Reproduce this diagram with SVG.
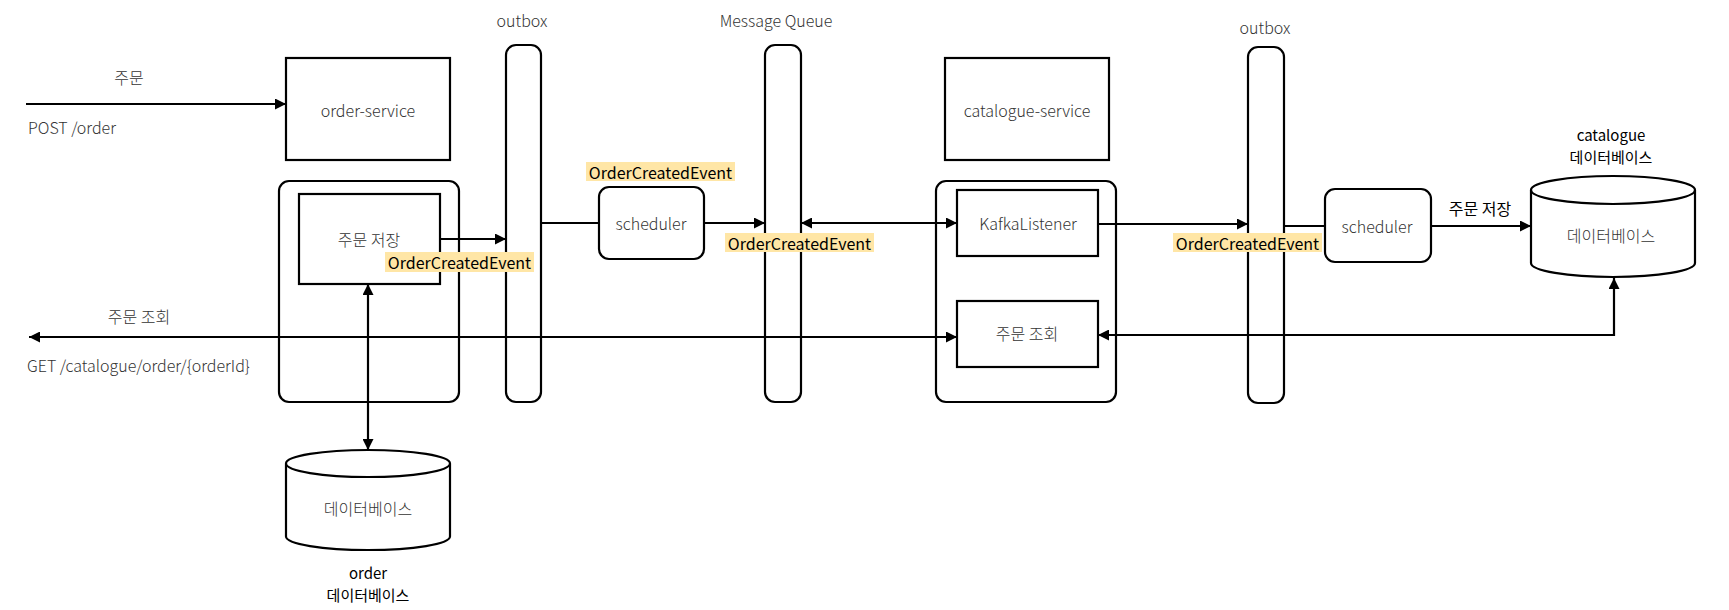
<svg xmlns="http://www.w3.org/2000/svg" width="1729" height="610" viewBox="0 0 1729 610">
<style>
text{font-family:"Noto Sans CJK KR","Noto Sans",sans-serif;font-size:16px;dominant-baseline:central}
.t{fill:#333;text-anchor:middle;font-weight:300}
.ts{fill:#333;text-anchor:start;font-weight:300}
.b{fill:#000;text-anchor:middle;font-weight:400}
.bs{fill:#000;text-anchor:middle;font-weight:400;font-size:15px}
.box{fill:#fff;stroke:#000;stroke-width:2.2}
.grp{fill:none;stroke:#000;stroke-width:2.2}
.ln{fill:none;stroke:#000;stroke-width:2.2}
.hl{fill:#ffe6a6}
.ev{fill:#000;text-anchor:middle}
</style>
<defs>
<marker id="ah" viewBox="0 0 10 10" refX="10" refY="5" markerWidth="11" markerHeight="11" markerUnits="userSpaceOnUse" orient="auto-start-reverse">
<path d="M0,0 L10,5 L0,10 z" fill="#000"/>
</marker>
</defs>

<g id="order-group"><rect class="grp" x="279" y="181" width="180" height="221" rx="10"/></g>
<g id="catalogue-group"><rect class="grp" x="936" y="181" width="180" height="221" rx="10"/></g>

<g id="order-service"><rect class="box" x="286" y="58" width="164" height="102"/><text class="t" x="368" y="110">order-service</text></g>
<g id="catalogue-service"><rect class="box" x="945" y="58" width="164" height="102"/><text class="t" x="1027" y="110">catalogue-service</text></g>

<g id="order-save"><rect class="box" x="299" y="194" width="141" height="90"/><text class="t" x="369" y="239">주문 저장</text></g>

<g id="outbox1"><rect class="box" x="506" y="45" width="35" height="357" rx="10"/><text class="t" x="522" y="20">outbox</text></g>
<g id="message-queue"><rect class="box" x="765" y="45" width="36" height="357" rx="10"/><text class="t" x="776" y="20">Message Queue</text></g>
<g id="outbox2"><rect class="box" x="1248" y="47" width="36" height="356" rx="10"/><text class="t" x="1265" y="27">outbox</text></g>

<g id="scheduler1"><rect class="box" x="599" y="187" width="105" height="72" rx="10"/><text class="t" x="651" y="223">scheduler</text></g>
<g id="kafka-listener"><rect class="box" x="957" y="190" width="141" height="66"/><text class="t" x="1028" y="223">KafkaListener</text></g>
<g id="order-query"><rect class="box" x="957" y="301" width="141" height="66"/><text class="t" x="1027" y="333">주문 조회</text></g>
<g id="scheduler2"><rect class="box" x="1325" y="189" width="106" height="73" rx="10"/><text class="t" x="1377" y="226">scheduler</text></g>

<g id="order-db">
<path class="box" d="M286,463.5 A82,13.5 0 0 1 450,463.5 L450,536.5 A82,13.5 0 0 1 286,536.5 Z"/>
<path class="ln" d="M286,463.5 A82,13.5 0 0 0 450,463.5"/>
<text class="t" x="368" y="508">데이터베이스</text>
<text class="bs" x="368" y="572">order</text>
<text class="bs" x="368" y="594">데이터베이스</text>
</g>

<g id="catalogue-db">
<path class="box" d="M1531,190 A82,14 0 0 1 1695,190 L1695,263 A82,14 0 0 1 1531,263 Z"/>
<path class="ln" d="M1531,190 A82,14 0 0 0 1695,190"/>
<text class="t" x="1611" y="235">데이터베이스</text>
<text class="bs" x="1611" y="134">catalogue</text>
<text class="bs" x="1611" y="156">데이터베이스</text>
</g>

<g id="connectors">
<path class="ln" d="M26,104 H286" marker-end="url(#ah)"/>
<path class="ln" d="M440,239 H506" marker-end="url(#ah)"/>
<path class="ln" d="M541,223 H599"/>
<path class="ln" d="M704,223 H765" marker-end="url(#ah)"/>
<path class="ln" d="M801,223 H957" marker-start="url(#ah)" marker-end="url(#ah)"/>
<path class="ln" d="M1098,224 H1248" marker-end="url(#ah)"/>
<path class="ln" d="M1284,226 H1325"/>
<path class="ln" d="M1431,226 H1531" marker-end="url(#ah)"/>
<path class="ln" d="M29,337 H957" marker-start="url(#ah)" marker-end="url(#ah)"/>
<path class="ln" d="M1614,278 V335 H1098" marker-start="url(#ah)" marker-end="url(#ah)"/>
<path class="ln" d="M368,284 V450" marker-start="url(#ah)" marker-end="url(#ah)"/>

<text class="t" x="129" y="77">주문</text>
<text class="ts" x="28" y="127">POST /order</text>
<text class="t" x="139" y="316">주문 조회</text>
<text class="ts" x="27" y="365">GET /catalogue/order/{orderId}</text>
<text class="b" x="1480" y="208">주문 저장</text>

<rect class="hl" x="385" y="252" width="149" height="20"/>
<text class="ev" x="459.5" y="262">OrderCreatedEvent</text>
<rect class="hl" x="586" y="162" width="149" height="19"/>
<text class="ev" x="660.5" y="171.5">OrderCreatedEvent</text>
<rect class="hl" x="725" y="233" width="149" height="19"/>
<text class="ev" x="799.5" y="242.5">OrderCreatedEvent</text>
<rect class="hl" x="1173" y="233" width="149" height="19"/>
<text class="ev" x="1247.5" y="242.5">OrderCreatedEvent</text>
</g>
</svg>
